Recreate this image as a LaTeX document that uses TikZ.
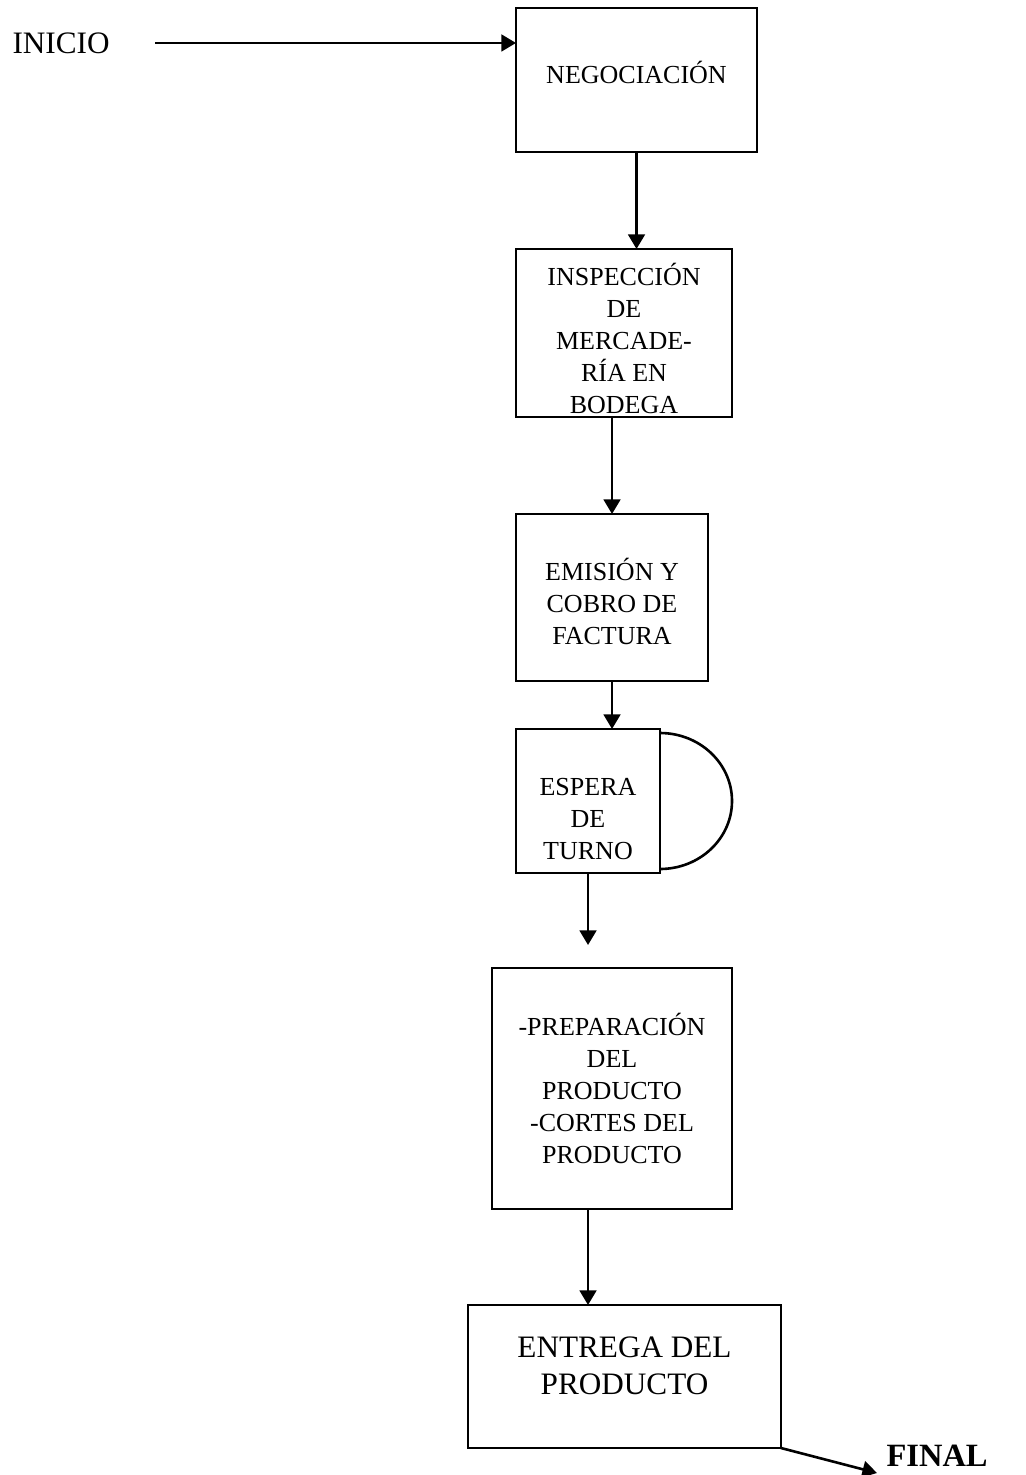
\documentclass[tikz,border=0pt]{standalone}
\usepackage{fontspec}
\setmainfont{Liberation Serif}
\usetikzlibrary{arrows.meta,positioning}
\newcommand{\px}{0.3846pt}

\begin{document}
\begin{tikzpicture}[x=0.3846pt,y=-0.3846pt,>=Triangle,
proc box/.style={draw,line width=1pt,outer sep=0pt,inner sep=0pt,align=center,font=\fontsize{10}{12.3}\selectfont},
flow/.style={-{Triangle[length=5.6pt,width=6.4pt]},line width=1pt},
end label/.style={inner sep=0pt,font=\fontsize{12}{14}\selectfont}]
\useasboundingbox (0,0) rectangle (1025,1475);
\node[end label,anchor=west] (inicio) at (12,43) {INICIO};
\node[proc box,minimum width=241*\px,minimum height=144*\px] (neg) at (636.5,80) {NEGOCIACIÓN\\[-6.7pt]};
\node[proc box,minimum width=216*\px,minimum height=168*\px] (insp) at (624,333) {\\[0.5pt]INSPECCIÓN\\DE\\MERCADE-\\RÍA EN\\BODEGA};
\node[proc box,minimum width=192*\px,minimum height=167*\px] (emision) at (612,597.5) {\\[-1pt]EMISIÓN Y\\COBRO DE\\FACTURA};
\node[proc box,minimum width=144*\px,minimum height=144*\px] (espera) at (588,801) {\\[7.9pt]ESPERA\\DE\\TURNO};
\node[proc box,minimum width=240*\px,minimum height=241*\px] (prep) at (612,1088.5) {-PREPARACIÓN\\DEL\\PRODUCTO\\-CORTES DEL\\PRODUCTO};
\node[proc box,font=\fontsize{12}{14.2}\selectfont,minimum width=313*\px,minimum height=143*\px] (entrega) at (624.5,1376.5) {ENTREGA DEL\\PRODUCTO\\[-5.7pt]};
\node[end label,font=\fontsize{12.5}{14}\selectfont\bfseries,anchor=west] (final) at (886,1456) {FINAL};
\coordinate (inicio start) at (155,43);
\coordinate (espera out) at (588,945);
\coordinate (final tip) at (877,1473);
% conectores
\draw[flow] (inicio start) -- (inicio start -| neg.west);
\draw[flow] (neg) -- (insp.north -| neg);
\draw[flow] (emision.north |- insp.south) -- (emision.north);
\draw[flow] (emision.south) -- (emision.south |- espera.north);
\draw[flow] (espera.south) -- (espera out);
\draw[flow] (prep.south -| espera) -- (entrega.north -| espera);
\draw[flow] (entrega.south east) -- (final tip);
% demora
\draw[line width=1pt] ([yshift=-4*\px]espera.north east) arc[start angle=90,end angle=-90,x radius=72*\px,y radius=68*\px];
\end{tikzpicture}
\end{document}
